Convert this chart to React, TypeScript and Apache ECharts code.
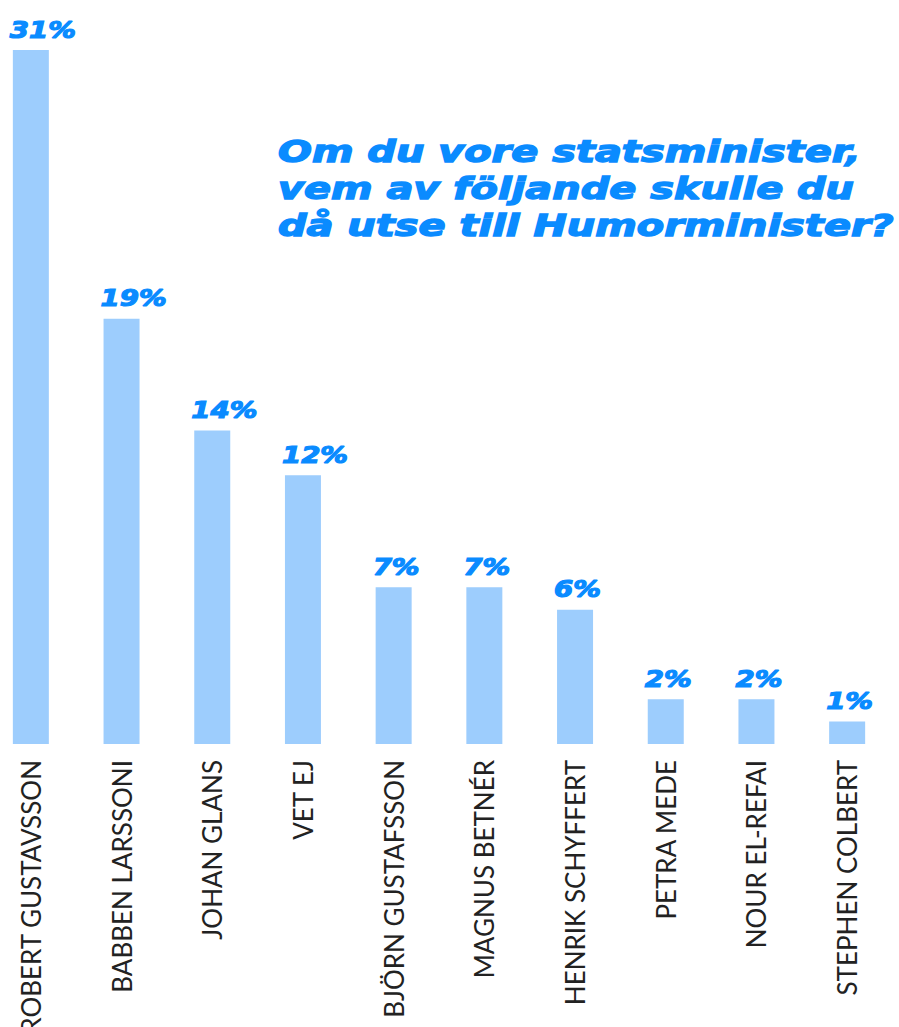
import React, { useEffect, useRef } from "react";
import * as echarts from "echarts";

const categories = [
  "ROBERT GUSTAVSSON",
  "BABBEN LARSSONI",
  "JOHAN GLANS",
  "VET EJ",
  "BJÖRN GUSTAFSSON",
  "MAGNUS BETNÉR",
  "HENRIK SCHYFFERT",
  "PETRA MEDE",
  "NOUR EL-REFAI",
  "STEPHEN COLBERT",
];
const values = [31, 19, 14, 12, 7, 7, 6, 2, 2, 1];
const titleLines = [
  "Om du vore statsminister,",
  "vem av följande skulle du",
  "då utse till Humorminister?",
];

const BLUE = "#0a8bff";
const BAR = "#9dcdfd";

export default function App() {
  const ref = useRef<HTMLDivElement>(null);
  useEffect(() => {
    if (!ref.current) return;
    const chart = echarts.init(ref.current, null, { renderer: "svg" });
    chart.setOption({
      animation: false,
      backgroundColor: "#ffffff",
      grid: {
        left: -14.5,
        width: 907,
        top: 50,
        bottom: 283,
        outerBoundsMode: "none",
      },
      xAxis: {
        type: "category",
        data: categories,
        axisLine: { show: false },
        axisTick: { show: false },
        axisLabel: {
          rotate: 90,
          interval: 0,
          margin: 16,
          fontFamily: "Lato",
          fontWeight: 400,
          fontSize: 26,
          color: "#222222",
        },
      },
      yAxis: {
        type: "value",
        min: 0,
        max: 31,
        show: false,
        splitLine: { show: false },
      },
      series: [
        {
          type: "bar",
          data: values,
          barWidth: 36,
          itemStyle: { color: BAR },
          silent: true,
        },
        {
          type: "custom",
          data: values.map((v, i) => [i, v]),
          silent: true,
          renderItem: (params: any, api: any) => {
            const pt = api.coord([api.value(0), api.value(1)]);
            return {
              type: "text",
              x: pt[0] - 21,
              y: pt[1] - 9,
              scaleX: 1.2,
              style: {
                text: api.value(1) + "%",
                fontFamily: "DejaVu Sans",
                fontWeight: "bold",
                fontStyle: "italic",
                fontSize: 23,
                fill: BLUE,
                stroke: BLUE,
                lineWidth: 1.2,
                align: "left",
                verticalAlign: "bottom",
              },
            };
          },
        },
      ],
      graphic: [
        {
          type: "text",
          x: 278,
          y: 133,
          scaleX: 1.33,
          style: {
            text: titleLines.join("\n"),
            fontFamily: "DejaVu Sans",
            fontWeight: "bold",
            fontStyle: "italic",
            fontSize: 30,
            lineHeight: 37,
            fill: BLUE,
            stroke: BLUE,
            lineWidth: 1.4,
            align: "left",
            verticalAlign: "top",
          },
        },
      ],
    });
    return () => chart.dispose();
  }, []);
  return (
    <div
      ref={ref}
      style={{ position: "fixed", left: 0, top: 0, width: 899, height: 1027 }}
    />
  );
}
